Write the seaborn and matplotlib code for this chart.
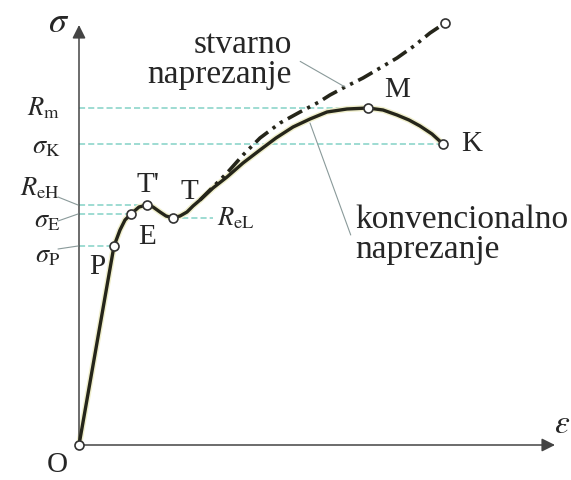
import matplotlib
matplotlib.use("Agg")
import matplotlib.pyplot as plt
import pandas as pd
import seaborn as sns

# ── Data (arbitrary units) ──────────────────────────────────────────
strain_conv = [0, 35, 41, 46, 52, 60, 68, 74, 81, 87, 94, 101, 108, 114, 121,
               134, 148, 164, 181, 197, 214, 231, 248, 268, 289, 304, 318,
               330, 341, 353, 364]
stress_conv = [0, 199, 215, 225, 231, 238, 240, 238, 233, 229, 227, 229, 233,
               239, 245, 257, 268, 282, 295, 307, 318, 326, 333, 336, 337, 335,
               330, 325, 319, 311, 301]

strain_true = [121, 134, 148, 164, 181, 201, 221, 240, 251, 266, 284, 301,
               318, 335, 351, 366]
stress_true = [245, 258, 272, 290, 307, 322, 333, 343, 350, 358, 367, 377,
               387, 399, 412, 422]

point_names = ["O", "P", "E", "T'", "T", "M", "K"]
point_strain = [0, 35, 52, 68, 94, 289, 364]
point_stress = [0, 199, 231, 240, 227, 337, 301]

# stress levels marked on the σ axis: (label, point it belongs to)
level_labels = [r"$R_\mathrm{m}$", r"$\sigma_\mathrm{K}$", r"$R_\mathrm{eH}$",
                r"$\sigma_\mathrm{E}$", r"$\sigma_\mathrm{P}$"]
level_points = ["M", "K", "T'", "E", "P"]

# ── Style ───────────────────────────────────────────────────────────
sns.set_theme(style="white")
plt.rcParams["font.family"] = ["Liberation Serif", "DejaVu Serif"]
plt.rcParams["mathtext.fontset"] = "stix"

CURVE = "#25251a"
HALO = "#f0efcc"
GUIDE = "#84d2c6"
AXIS = "#444444"
LEADER = "#8a9a9a"
DASHDOT = (0, (4.5, 1.6, 0.9, 1.6, 0.9, 1.6))

conv = pd.DataFrame({"strain": strain_conv, "stress": stress_conv})
true = pd.DataFrame({"strain": strain_true, "stress": stress_true})
pts = pd.DataFrame({"name": point_names, "strain": point_strain,
                    "stress": point_stress}).set_index("name")

fig = plt.figure(figsize=(5.71, 4.8), dpi=100)
ax = fig.add_axes([0, 0, 1, 1])
ax.set_xlim(-79, 492)
ax.set_ylim(-35, 445)
ax.set_axis_off()

# axes with arrows
ax.annotate("", xy=(476, 0), xytext=(0, 0),
            arrowprops=dict(arrowstyle="-|>", color=AXIS, lw=1.1,
                            mutation_scale=20, shrinkA=0, shrinkB=0))
ax.annotate("", xy=(0, 420), xytext=(0, 0),
            arrowprops=dict(arrowstyle="-|>", color=AXIS, lw=1.1,
                            mutation_scale=20, shrinkA=0, shrinkB=0))
ax.text(-20, 421, r"$\sigma$", fontsize=26, ha="center", va="center")
ax.text(491, 20, r"$\varepsilon$", fontsize=24, ha="right", va="center")

# dashed guide lines to the stress levels
for p in level_points:
    ax.hlines(pts.loc[p, "stress"], 0, pts.loc[p, "strain"],
              colors=GUIDE, linestyles=(0, (4, 2)), lw=1.1, zorder=1)
ax.hlines(pts.loc["T", "stress"], pts.loc["T", "strain"], 134,
          colors=GUIDE, linestyles=(0, (4, 2)), lw=1.1, zorder=1)

# stress-strain curves
sns.lineplot(data=conv, x="strain", y="stress", sort=False, estimator=None,
             color=HALO, lw=4.4, ax=ax, zorder=2)
sns.lineplot(data=conv, x="strain", y="stress", sort=False, estimator=None,
             color=CURVE, lw=2.4, ax=ax, zorder=3)
sns.lineplot(data=true, x="strain", y="stress", sort=False, estimator=None,
             color=CURVE, lw=2.6, ax=ax, zorder=3, linestyle=DASHDOT)

# characteristic points
sns.scatterplot(x=list(pts["strain"]) + [strain_true[-1]],
                y=list(pts["stress"]) + [stress_true[-1]],
                s=42, color="white", edgecolor="#333333", linewidth=1.2,
                ax=ax, zorder=4)

label_offsets = {"O": (-22, -20), "P": (-17, -21), "E": (16, -23),
                 "T'": (1, 20), "T": (16, 26), "M": (29, 18), "K": (29, 0)}
for name, (dx, dy) in label_offsets.items():
    ax.text(pts.loc[name, "strain"] + dx, pts.loc[name, "stress"] + dy, name,
            fontsize=21, ha="center", va="center")
ax.text(138, pts.loc["T", "stress"], r"$R_\mathrm{eL}$", fontsize=19,
        ha="left", va="center")

# stress level labels on the left
level_baseline = {"M": -7, "K": -9, "T'": 10, "E": -13, "P": -16}
for lab, p in zip(level_labels, level_points):
    ax.text(-19, pts.loc[p, "stress"] + level_baseline[p], lab, fontsize=19,
            ha="right", va="baseline")
for p, dy in (("T'", 8), ("E", -7), ("P", -3)):
    ax.annotate("", xy=(-1, pts.loc[p, "stress"]),
                xytext=(-21, pts.loc[p, "stress"] + dy),
                arrowprops=dict(arrowstyle="-", color=LEADER, lw=0.8,
                                shrinkA=0, shrinkB=0))

# curve captions with leaders
ax.annotate("stvarno\nnaprezanje", xy=(true.loc[9, "strain"], true.loc[9, "stress"]),
            xytext=(213, 385), fontsize=24, ha="right", va="center",
            linespacing=0.98,
            arrowprops=dict(arrowstyle="-", color=LEADER, lw=0.8,
                            shrinkA=2, shrinkB=0, relpos=(1.04, 0.5)))
ax.annotate("konvencionalno\nnaprezanje",
            xy=(conv.loc[21, "strain"], conv.loc[21, "stress"] - 4),
            xytext=(276, 210), fontsize=24, ha="left", va="center",
            linespacing=0.98,
            arrowprops=dict(arrowstyle="-", color=LEADER, lw=0.8,
                            shrinkA=0, shrinkB=0, relpos=(-0.02, 0.5)))

fig.savefig("out.png", dpi=100)
